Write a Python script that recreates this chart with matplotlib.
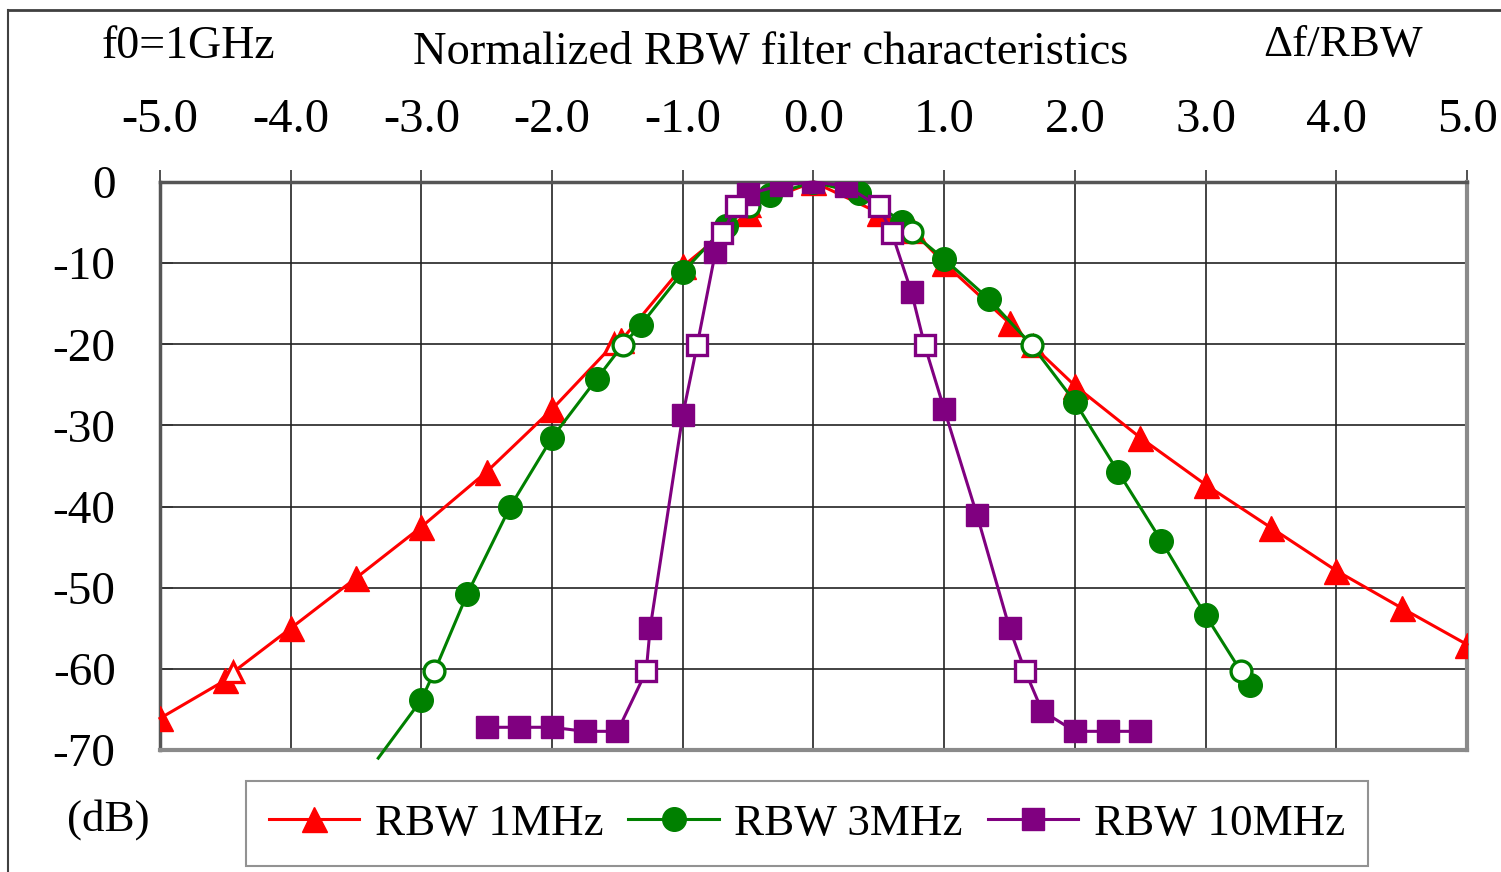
import numpy as np
import matplotlib
matplotlib.use("Agg")
import matplotlib.pyplot as plt
from matplotlib.lines import Line2D

plt.rcParams['font.family'] = ['Liberation Serif', 'DejaVu Serif']
plt.rcParams['axes.unicode_minus'] = False

# RBW 1MHz (filled markers)
rbw1_x = [-5.0, -4.5, -4.0, -3.5, -3.0, -2.5, -2.0, -1.47, -1.0, -0.5, 0.0,
          0.5, 1.0, 1.5, 2.0, 2.5, 3.0, 3.5, 4.0, 4.5, 5.0]
rbw1_y = [-66.1, -61.4, -55.0, -48.8, -42.5, -35.7, -28.0, -19.5, -10.4, -3.8, 0.0,
          -3.8, -10.0, -17.4, -25.1, -31.5, -37.3, -42.6, -47.9, -52.5, -57.0]
# RBW 1MHz (open markers)
rbw1_ox = [-4.44, -1.53, -0.49, 0.77, 1.68]
rbw1_oy = [-60.4, -20.0, -3.0, -6.2, -20.2]

# RBW 3MHz (filled markers, first point is below the axis)
rbw3_x = [-3.33, -3.0, -2.65, -2.32, -2.0, -1.66, -1.32, -1.0, -0.67, -0.33, 0.0,
          0.35, 0.68, 1.0, 1.34, 2.0, 2.33, 2.66, 3.0, 3.34]
rbw3_y = [-71.0, -63.8, -50.8, -40.0, -31.5, -24.3, -17.6, -11.1, -5.4, -1.6, 0.0,
          -1.4, -4.9, -9.5, -14.4, -27.1, -35.7, -44.2, -53.4, -62.0]
rbw3_ox = [-2.9, -1.46, -0.49, 0.75, 1.67, 3.27]
rbw3_oy = [-60.3, -20.1, -3.0, -6.2, -20.1, -60.3]

# RBW 10MHz
rbw10_x = [-2.5, -2.25, -2.0, -1.75, -1.5, -1.25, -1.0, -0.75, -0.5, -0.25, 0.0,
           0.25, 0.75, 1.0, 1.25, 1.5, 1.75, 2.0, 2.25, 2.5]
rbw10_y = [-67.2, -67.2, -67.2, -67.7, -67.7, -55.0, -28.7, -8.6, -1.5, -0.4, 0.0,
           -0.5, -13.6, -28.0, -41.0, -55.0, -65.2, -67.7, -67.7, -67.7]
rbw10_ox = [-1.28, -0.89, -0.7, -0.59, 0.5, 0.6, 0.85, 1.62]
rbw10_oy = [-60.3, -20.1, -6.3, -3.0, -3.0, -6.3, -20.1, -60.3]

x_ticks = [-5.0, -4.0, -3.0, -2.0, -1.0, 0.0, 1.0, 2.0, 3.0, 4.0, 5.0]
y_ticks = [0, -10, -20, -30, -40, -50, -60, -70]
labels = ['RBW 1MHz', 'RBW 3MHz', 'RBW 10MHz']
colors = ['#ff0000', '#008000', '#800080']
markers = ['^', 'o', 's']
sizes = [18, 17, 16]


def merged(x, y, ox, oy):
    # line goes through filled and open points, in x order
    xs = np.array(list(x) + list(ox))
    ys = np.array(list(y) + list(oy))
    idx = np.argsort(xs, kind='stable')
    return xs[idx], ys[idx]


fig = plt.figure(figsize=(15.01, 8.72), dpi=100)
ax = fig.add_axes([160/1501, 1-750/872, 1307/1501, 568/872])

series = [(rbw1_x, rbw1_y, rbw1_ox, rbw1_oy),
          (rbw3_x, rbw3_y, rbw3_ox, rbw3_oy),
          (rbw10_x, rbw10_y, rbw10_ox, rbw10_oy)]

for i, (x, y, ox, oy) in enumerate(series):
    c = colors[i]
    m = markers[i]
    lx, ly = merged(x, y, ox, oy)
    ax.plot(lx, ly, color=c, lw=2.2, zorder=3 + i, clip_on=False)
    fx = np.array(x)
    fy = np.array(y)
    inside = fy >= -70
    if m == 's':
        ax.plot(ox, oy, ls='none', marker=m, ms=15, mfc='white', mec=c,
                mew=2.4, zorder=3.5 + i)
        ax.plot(fx[inside], fy[inside], ls='none', marker=m, ms=sizes[i], color=c,
                zorder=3.4 + i)
    else:
        ax.plot(fx[inside], fy[inside], ls='none', marker=m, ms=sizes[i], color=c,
                zorder=3.4 + i)
        ax.plot(ox, oy, ls='none', marker=m, ms=15, mfc='white', mec=c,
                mew=2.4, zorder=3.45 + i)

ax.set_xlim(-5, 5)
ax.set_ylim(-70, 0)
ax.xaxis.tick_top()
ax.set_xticks(x_ticks)
ax.set_xticklabels(['%.1f' % v for v in x_ticks], fontsize=35)
ax.set_yticks(y_ticks)
ax.set_yticklabels([str(v) for v in y_ticks], fontsize=34)
ax.tick_params(axis='x', direction='out', length=9, width=1.2, color='#333333', pad=20)
ax.tick_params(axis='y', direction='in', length=9, width=1.2, color='#333333', pad=32)
ax.grid(True, color='#222222', lw=1.2)
ax.set_axisbelow(True)
for s in ['top', 'left']:
    ax.spines[s].set_color('#555555')
    ax.spines[s].set_linewidth(2.5)
for s in ['bottom', 'right']:
    ax.spines[s].set_color('#8a8a8a')
    ax.spines[s].set_linewidth(3)

fig.text(102/1501, 1-47/872, 'f0=1GHz', fontsize=33, ha='left', va='center')
fig.text(771/1501, 1-52/872, 'Normalized RBW filter characteristics', fontsize=33.5,
         ha='center', va='center')
fig.text(1343/1501, 1-45/872, '\u0394f/RBW', fontsize=32.5, ha='center', va='center')
fig.text(108/1501, 1-820/872, '(dB)', fontsize=32.5, ha='center', va='center')

# outer border (right and bottom sides fall outside the picture)
fig.add_artist(Line2D([8/1501, 1], [1-10/872, 1-10/872], transform=fig.transFigure,
                      color='#404040', lw=2))
fig.add_artist(Line2D([8/1501, 8/1501], [0, 1-10/872], transform=fig.transFigure,
                      color='#404040', lw=1.5))

handles = [Line2D([], [], color=colors[i], lw=2.2, marker=markers[i], ms=sizes[i])
           for i in range(3)]
leg = fig.legend(handles, labels, loc='center', bbox_to_anchor=(807/1501, 1-823.5/872),
                 ncol=3, fontsize=32.5, frameon=True, fancybox=False, edgecolor='#777777',
                 handlelength=2.0, handletextpad=0.35, columnspacing=0.55,
                 borderpad=0.5, borderaxespad=0)
leg.get_frame().set_linewidth(1.5)

fig.savefig('out.png', dpi=100)
